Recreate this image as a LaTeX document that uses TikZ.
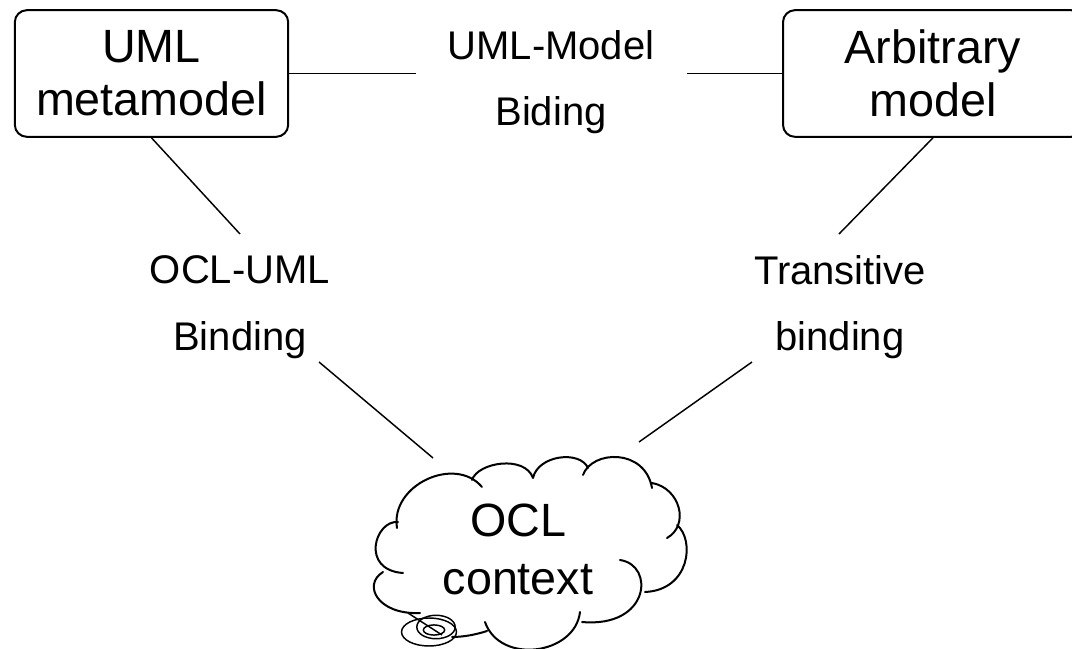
\documentclass[tikz,border=0pt]{standalone}
\usepackage{fontspec}
\setmainfont{Liberation Sans}

\begin{document}
\begin{tikzpicture}[
    x=0.75pt, y=-0.75pt,
    box/.style={
        draw,
        rectangle,
        rounded corners=9pt,
        line width=1.5pt,
        inner sep=0pt,
        minimum height=95pt,
        align=center,
        font=\fontsize{35}{40}\selectfont
    },
    lbl/.style={
        inner sep=0pt,
        align=center,
        font=\fontsize{30}{50}\selectfont
    },
    link/.style={line width=1.1pt},
    puff/.style={line width=1.5pt, line cap=round}
]
\useasboundingbox (0,0) rectangle (1072,649);

\node[box, minimum width=205pt] (uml) at (151.5,73.5) {UML\\metamodel};
\node[box, minimum width=225pt] (arb) at (933,73.5) {Arbitrary\\model};

\node[lbl] (umbind) at (551,82) {UML-Model\\Biding};
\node[lbl] (oclbind) at (240,307) {OCL-UML\\Binding};
\node[lbl] (trbind) at (840,307) {Transitive\\binding};

\node[inner sep=0pt, align=center, font=\fontsize{35}{43}\selectfont] (ocl) at (518,549.5) {OCL\\context};

% free ends of the links, left open around the labels
\coordinate (umbL) at (416,73.5);
\coordinate (umbR) at (687,73.5);
\coordinate (oclA) at (240,234);
\coordinate (oclB) at (319,362);
\coordinate (trA) at (839,234);
\coordinate (trB) at (752,362);
\coordinate (cloudNW) at (433,458);
\coordinate (cloudNE) at (639,442);

\draw[link] (uml.east) -- (umbL);
\draw[link] (umbR) -- (arb.west);
\draw[link] (uml.south) -- (oclA);
\draw[link] (oclB) -- (cloudNW);
\draw[link] (arb.south) -- (trA);
\draw[link] (trB) -- (cloudNE);

% cloud outline, one puff at a time
\draw[puff]
    (397,528) .. controls (390,485) and (455,455) .. (482,487)
    (472,480) .. controls (478,462) and (525,455) .. (533,478)
    (533,478) .. controls (538,455) and (580,450) .. (588,468)
    (583,475) .. controls (592,450) and (645,448) .. (652,488)
    (652,483) .. controls (680,488) and (690,525) .. (667,538)
    (677,525) .. controls (695,540) and (690,590) .. (645,592)
    (620,560) .. controls (655,565) and (650,628) .. (582,622)
    (580,612) .. controls (575,655) and (500,665) .. (485,622)
    (487,631) .. controls (475,635) and (462,637) .. (452,637)
    (383,572) .. controls (362,585) and (378,615) .. (420,613)
    (398,522) .. controls (375,520) and (360,570) .. (403,573);

% small bubbles of the callout
\draw[link] (429,632) ellipse [x radius=20.6pt, y radius=10.5pt];
\draw[link] (436,627) ellipse [x radius=14.4pt, y radius=8.8pt];
\draw[link] (434,630) ellipse [x radius=8pt, y radius=3.8pt];
\draw[link] (408,613) -- (442,635);

\end{tikzpicture}
\end{document}
